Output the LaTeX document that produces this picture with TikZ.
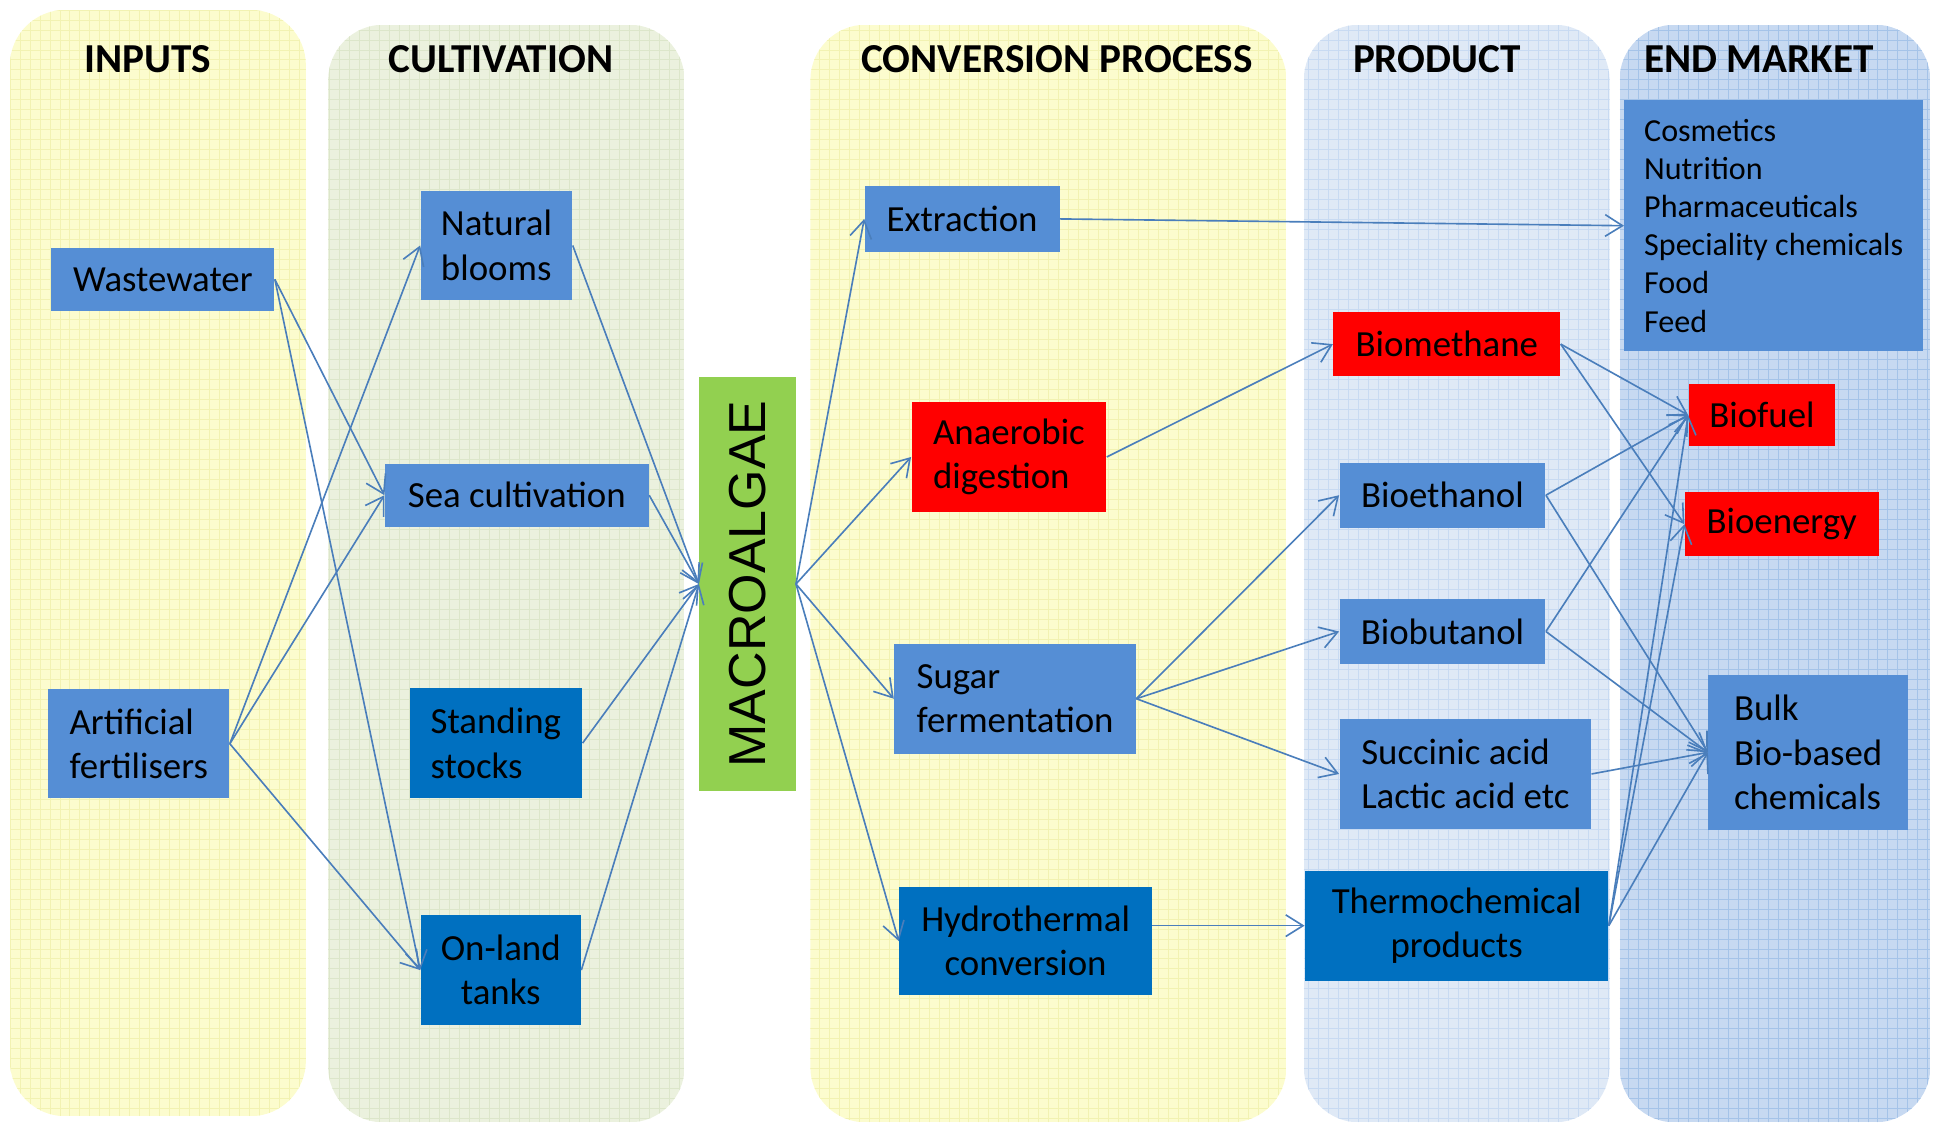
\documentclass[tikz,border=0pt]{standalone}
\usepackage{fontspec}
\setmainfont{Carlito}
\newfontfamily\algaefont{Liberation Sans}
\usepackage{xcolor}
\usepackage{tikz}
\usetikzlibrary{arrows.meta}

\definecolor{boxblue}{RGB}{85,142,213}
\definecolor{deepblue}{RGB}{0,112,192}
\definecolor{algaegreen}{RGB}{146,208,80}
\definecolor{linkblue}{RGB}{74,126,187}
\definecolor{inyellow}{RGB}{252,252,206}
\definecolor{inyellowgrid}{RGB}{242,242,178}
\definecolor{cultgreen}{RGB}{235,241,222}
\definecolor{cultgreengrid}{RGB}{220,230,202}
\definecolor{prodblue}{RGB}{223,233,246}
\definecolor{prodbluegrid}{RGB}{200,218,242}
\definecolor{marketblue}{RGB}{199,217,241}
\definecolor{marketbluegrid}{RGB}{165,195,232}

\tikzset{
  box/.style={rectangle, fill=boxblue, inner sep=0pt, align=left, font=\fontsize{17}{20.5}\selectfont},
  darkbox/.style={box, fill=deepblue},
  redbox/.style={box, fill=red},
  heading/.style={font=\fontsize{19}{22}\selectfont\bfseries},
  link/.style={draw=linkblue, line width=0.75pt, -{Straight Barb[length=8pt,width=10pt]}},
}

\newcommand\colpanel[6]{%
  \begin{scope}
    \clip[rounded corners=0.9cm] (#1,#2) rectangle (#3,#4);
    \fill[#5] (#1,#2) rectangle (#3,#4);
    \draw[#6, line width=0.4pt, step=0.162cm] (#1,#4) grid (#3,#2);
  \end{scope}}

\begin{document}
\begin{tikzpicture}[x=0.02cm, y=-0.02cm]
            \useasboundingbox (0,0) rectangle (1568,911);

            \colpanel{8}{8}{248}{905}{inyellow}{inyellowgrid}
            \colpanel{266}{20}{555}{910}{cultgreen}{cultgreengrid}
            \colpanel{657}{20}{1043}{910}{inyellow}{inyellowgrid}
            \colpanel{1057}{20}{1305}{910}{prodblue}{prodbluegrid}
            \colpanel{1313}{20}{1565}{910}{marketblue}{marketbluegrid}

            \node[heading] (hinputs) at (120,48) {INPUTS};
            \node[heading] (hcult) at (406,48) {CULTIVATION};
            \node[heading] (hconv) at (857,48) {CONVERSION PROCESS};
            \node[heading] (hprod) at (1165,48) {PRODUCT};
            \node[heading] (hmarket) at (1426,48) {END MARKET};

            \node[box, minimum width=3.62cm, minimum height=1.02cm] (waste) at (132,226.5) {Wastewater};
            \node[box, minimum width=2.94cm, minimum height=1.76cm] (fert) at (112.5,603) {Artificial\\fertilisers};

            \node[box, minimum width=2.46cm, minimum height=1.76cm] (bloom) at (402.5,199) {Natural\\blooms};
            \node[box, minimum width=4.28cm, minimum height=1.02cm] (sea) at (419,401.5) {Sea cultivation};
            \node[darkbox, minimum width=2.80cm, minimum height=1.78cm] (stand) at (402,602.5) {Standing\\stocks};
            \node[darkbox, align=center, minimum width=2.60cm, minimum height=1.78cm] (tank) at (406,786.5) {On-land\\tanks};

            \node[fill=algaegreen, inner sep=0pt, minimum width=1.56cm, minimum height=6.70cm, font=\algaefont\fontsize{24}{24}\selectfont] (algae) at (606,473.5) {\rotatebox{90}{MACROALGAE}};

            \node[box, minimum width=3.16cm, minimum height=1.06cm] (extr) at (780,177.5) {Extraction};
            \node[redbox, minimum width=3.16cm, minimum height=1.78cm] (anae) at (818,370.5) {Anaerobic\\digestion};
            \node[box, minimum width=3.92cm, minimum height=1.78cm] (sugar) at (823,566.5) {Sugar\\fermentation};
            \node[darkbox, align=center, minimum width=4.10cm, minimum height=1.76cm] (hydro) at (831.5,763) {Hydrothermal\\conversion};

            \node[redbox, minimum width=3.68cm, minimum height=1.04cm] (meth) at (1173,279) {Biomethane};
            \node[box, minimum width=3.34cm, minimum height=1.06cm] (eth) at (1169.5,401.5) {Bioethanol};
            \node[box, minimum width=3.34cm, minimum height=1.04cm] (but) at (1169.5,512) {Biobutanol};
            \node[box, minimum width=4.08cm, minimum height=1.78cm] (acid) at (1188,627.5) {Succinic acid\\Lactic acid etc};
            \node[darkbox, align=center, minimum width=4.92cm, minimum height=1.78cm] (thermo) at (1181,750.5) {Thermochemical\\products};

            \node[box, font=\fontsize{14.8}{17.6}\selectfont, minimum width=4.84cm, minimum height=4.08cm] (market) at (1438,183) {Cosmetics\\Nutrition\\Pharmaceuticals\\Speciality chemicals\\Food\\Feed};
            \node[redbox, minimum width=2.38cm, minimum height=1.02cm] (fuel) at (1428.5,336.5) {Biofuel};
            \node[redbox, minimum width=3.14cm, minimum height=1.04cm] (energy) at (1444.5,425) {Bioenergy};
            \node[box, minimum width=3.24cm, minimum height=2.52cm] (bulk) at (1466,610) {Bulk\\Bio-based\\chemicals};

            \draw[link] (waste.east) -- (sea.west);
            \draw[link] (waste.east) -- (tank.west);
            \draw[link] (fert.east) -- (bloom.west);
            \draw[link] (fert.east) -- (sea.west);
            \draw[link] (fert.east) -- (tank.west);

            \draw[link] (bloom.east) -- (algae.west);
            \draw[link] (sea.east) -- (algae.west);
            \draw[link] (stand.east) -- (algae.west);
            \draw[link] (tank.east) -- (algae.west);

            \draw[link] (algae.east) -- (extr.west);
            \draw[link] (algae.east) -- (anae.west);
            \draw[link] (algae.east) -- (sugar.west);
            \draw[link] (algae.east) -- (hydro.west);

            \draw[link] (extr.east) -- (market.west);
            \draw[link] (anae.east) -- (meth.west);
            \draw[link] (sugar.east) -- (eth.west);
            \draw[link] (sugar.east) -- (but.west);
            \draw[link] (sugar.east) -- (acid.west);
            \draw[link] (hydro.east |- thermo.west) -- (thermo.west);

            \draw[link] (meth.east) -- (fuel.west);
            \draw[link] (meth.east) -- (energy.west);
            \draw[link] (eth.east) -- (fuel.west);
            \draw[link] (eth.east) -- (bulk.west);
            \draw[link] (but.east) -- (fuel.west);
            \draw[link] (but.east) -- (bulk.west);
            \draw[link] (acid.east) -- (bulk.west);
            \draw[link] (thermo.east) -- (fuel.west);
            \draw[link] (thermo.east) -- (energy.west);
            \draw[link] (thermo.east) -- (bulk.west);
        \end{tikzpicture}
\end{document}
